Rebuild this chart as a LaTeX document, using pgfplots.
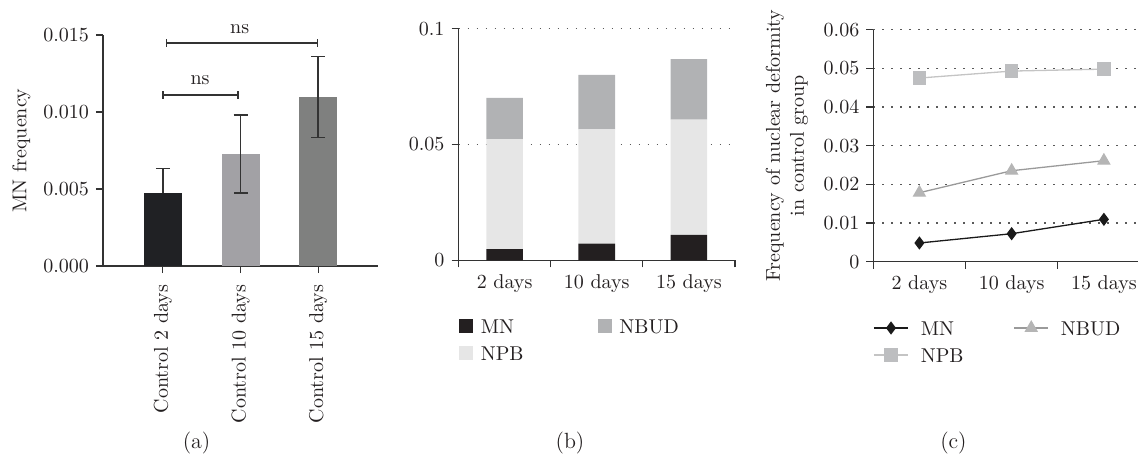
\documentclass[border=0pt]{standalone}
\usepackage{pgfplots}
\pgfplotsset{compat=1.18}
\definecolor{axc}{HTML}{333333}
\definecolor{txt}{HTML}{231F20}
\definecolor{aone}{HTML}{202124}
\definecolor{atwo}{HTML}{A2A1A5}
\definecolor{athree}{HTML}{7F807F}
\definecolor{mnf}{HTML}{231F20}
\definecolor{npbf}{HTML}{E6E6E6}
\definecolor{nbudf}{HTML}{B1B2B4}
\definecolor{mnl}{HTML}{1A1A1A}
\definecolor{nbudl}{HTML}{9A9A9A}
\definecolor{nbudm}{HTML}{B5B5B5}
\definecolor{npbl}{HTML}{C4C4C4}
\definecolor{npbm}{HTML}{BDBEC0}
\begin{document}
\begin{tikzpicture}[font=\fontsize{10}{12}\selectfont, text=txt]
\useasboundingbox (0,0) rectangle (571.5pt,230.5pt);
\pgfplotsset{
  common/.style={
    scale only axis,
    anchor=south west,
    axis x line*=bottom, axis y line*=left,
    axis line style={axc, line width=0.6pt, -},
    every outer x axis line/.append style={-},
    every outer y axis line/.append style={-},
    tick style={axc, line width=0.6pt},
    tick align=outside,
    major tick length=3.5pt,
    minor tick length=3.5pt,
    scaled y ticks=false,
    yticklabel style={/pgf/number format/fixed},
    tick label style={font=\fontsize{10}{12}\selectfont, text=txt},
    label style={font=\fontsize{10}{12}\selectfont, text=txt},
    clip=false,
  },
  dotgrid/.style={
    ymajorgrids,
    major grid style={draw=black!65, line width=0.7pt, dash pattern=on 0.7pt off 3.8pt},
  },
}
% ---------------- (a) ----------------
\begin{axis}[common, at={(51.5pt,97.5pt)}, width=137.5pt, height=115.5pt,
  xmin=-0.77, xmax=2.77, ymin=0, ymax=0.015,
  ytick={0,0.005,0.01,0.015},
  yticklabel style={/pgf/number format/fixed, /pgf/number format/fixed zerofill, /pgf/number format/precision=3},
  xtick={0,1,2}, xticklabels={Control 2 days, Control 10 days, Control 15 days},
  xticklabel style={rotate=90, anchor=east, inner sep=5.6pt},
  ylabel={MN frequency}, ylabel style={at={(axis description cs:-0.238,0.5)}, anchor=south},
  ybar, bar width=19pt]
\addplot[fill=aone, draw=none, bar shift=0pt, error bars/.cd, y dir=plus, y explicit,
  error bar style={line width=0.75pt, draw=axc}, error mark options={rotate=90, mark size=3.5pt, line width=0.75pt, draw=axc}]
  coordinates {(0,0.00474) +- (0,0.0016)};
\addplot[fill=atwo, draw=none, bar shift=0pt, error bars/.cd, y dir=both, y explicit,
  error bar style={line width=0.75pt, draw=axc}, error mark options={rotate=90, mark size=3.5pt, line width=0.75pt, draw=axc}]
  coordinates {(1,0.00727) +- (0,0.00253)};
\addplot[fill=athree, draw=none, bar shift=0pt, error bars/.cd, y dir=both, y explicit,
  error bar style={line width=0.75pt, draw=axc}, error mark options={rotate=90, mark size=3.5pt, line width=0.75pt, draw=axc}]
  coordinates {(2,0.01097) +- (0,0.00263)};
% significance brackets
\draw[axc, line width=0.75pt] (axis cs:0.05,0.01448) -- (axis cs:1.99,0.01448);
\draw[axc, line width=0.75pt] ([yshift=2pt]axis cs:0.05,0.01448) -- ([yshift=-2pt]axis cs:0.05,0.01448);
\draw[axc, line width=0.75pt] ([yshift=2pt]axis cs:1.99,0.01448) -- ([yshift=-2pt]axis cs:1.99,0.01448);
\node[anchor=base] at ([yshift=5pt]axis cs:0.99,0.01448) {ns};
\draw[axc, line width=0.75pt] (axis cs:0,0.0111) -- (axis cs:0.97,0.0111);
\draw[axc, line width=0.75pt] ([yshift=2pt]axis cs:0,0.0111) -- ([yshift=-2pt]axis cs:0,0.0111);
\draw[axc, line width=0.75pt] ([yshift=2pt]axis cs:0.97,0.0111) -- ([yshift=-2pt]axis cs:0.97,0.0111);
\node[anchor=base] at ([yshift=5.5pt]axis cs:0.48,0.0111) {ns};
\end{axis}
% ---------------- (b) ----------------
\begin{axis}[common, dotgrid, at={(229.25pt,100.35pt)}, width=138.25pt, height=115.8pt,
  xmin=-0.5, xmax=2.5, ymin=0, ymax=0.1, ytick={0,0.05,0.1},
  xtick={0,1,2}, xticklabels={2 days,10 days,15 days},
  major x tick style={draw=none},
  minor xtick={-0.5,0.5,1.5,2.5}, minor x tick style={axc, line width=0.6pt},
  ybar stacked, bar width=18.3pt,
  legend columns=2, legend cell align=left,
  legend style={at={(0.002,-0.2535)}, anchor=north west, draw=none, fill=none,
    inner sep=0pt, outer sep=0pt, row sep=6.5pt,
    nodes={inner sep=0pt, text height=7pt, text depth=0pt},
    /tikz/column 1/.style={column sep=4pt}, /tikz/column 2/.style={column sep=37pt},
    /tikz/column 3/.style={column sep=4pt}}]
\addplot[fill=mnf, draw=none, forget plot] coordinates {(0,0.00484) (1,0.00724) (2,0.01096)};
\addplot[fill=npbf, draw=none, forget plot] coordinates {(0,0.0475) (1,0.0493) (2,0.0498)};
\addplot[fill=nbudf, draw=none, forget plot] coordinates {(0,0.01784) (1,0.02353) (2,0.02612)};
\addlegendimage{legend image code/.code={\fill[mnf] (0pt,-3.25pt) rectangle (6.5pt,3.25pt);}}
\addlegendentry{MN}
\addlegendimage{legend image code/.code={\fill[nbudf] (0pt,-3.25pt) rectangle (6.5pt,3.25pt);}}
\addlegendentry{NBUD}
\addlegendimage{legend image code/.code={\fill[npbf] (0pt,-3.25pt) rectangle (6.5pt,3.25pt);}}
\addlegendentry{NPB}
\end{axis}
% ---------------- (c) ----------------
\begin{axis}[common, dotgrid, at={(436.65pt,99.65pt)}, width=132.35pt, height=116pt,
  xmin=-0.5, xmax=2.37, ymin=0, ymax=0.06,
  ytick={0,0.01,0.02,0.03,0.04,0.05,0.06},
  xtick={0,1,2}, xticklabels={2 days,10 days,15 days},
  major x tick style={draw=none},
  minor xtick={-0.5,0.5,1.5}, minor x tick style={axc, line width=0.6pt},
  ylabel={Frequency of nuclear deformity\\in control group},
  ylabel style={align=center, at={(axis description cs:-0.22,0.5)}, anchor=south},
  legend columns=2, legend cell align=left,
  legend style={at={(0,-0.2556)}, anchor=north west, draw=none, fill=none,
    inner sep=0pt, outer sep=0pt, row sep=6.5pt,
    nodes={inner sep=0pt, text height=7pt, text depth=0pt},
    /tikz/column 1/.style={column sep=6pt}, /tikz/column 2/.style={column sep=25pt},
    /tikz/column 3/.style={column sep=6pt}}]
\addplot[color=mnl, line width=0.65pt, mark=diamond*, mark size=2.8pt, mark options={fill=mnl, draw=mnl}]
  coordinates {(0,0.00484) (1,0.00724) (2,0.01096)};
\addlegendentry{MN}
\addplot[color=nbudl, line width=0.65pt, mark=triangle*, mark size=3.3pt, mark options={fill=nbudm, draw=nbudm}]
  coordinates {(0,0.01784) (1,0.02353) (2,0.02612)};
\addlegendentry{NBUD}
\addplot[color=npbl, line width=0.65pt, mark=square*, mark size=3pt, mark options={fill=npbm, draw=npbm}]
  coordinates {(0,0.0475) (1,0.0493) (2,0.0498)};
\addlegendentry{NPB}
\end{axis}
% sub-captions
\node[font=\fontsize{11}{13}\selectfont] at (98.3pt,8.75pt) {(a)};
\node[font=\fontsize{11}{13}\selectfont] at (285pt,8.75pt) {(b)};
\node[font=\fontsize{11}{13}\selectfont] at (476.7pt,8.75pt) {(c)};
\end{tikzpicture}
\end{document}
